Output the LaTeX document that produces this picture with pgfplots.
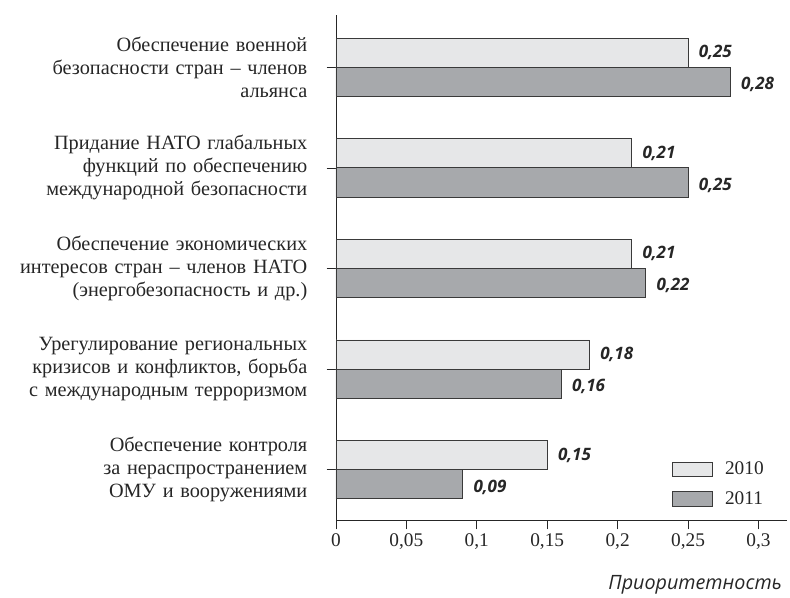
\documentclass[border=0pt]{standalone}
\usepackage{pgfplots}
\pgfplotsset{compat=1.18}
\usepackage{fontspec}
\setmainfont{Liberation Serif}
\newfontfamily\lab{Open Sans}
\definecolor{light}{HTML}{E6E7E8}
\definecolor{dark}{HTML}{A7A9AC}
\definecolor{edge}{HTML}{3A3A3A}
\begin{document}
\begin{tikzpicture}
\begin{axis}[
  at={(0pt,0pt)}, anchor=south west,
  scale only axis, width=338pt, height=378.75pt,
  xbar, bar width=0.29,
  xmin=0, xmax=0.32, ymin=-0.5, ymax=4.52,
  axis x line=bottom, axis y line=left,
  axis line style={-, draw=black!85, line width=0.6pt},
  tick align=outside, major tick length=7pt,
  tick style={draw=black!85, line width=0.5pt},
  xtick={0,0.05,0.1,0.15,0.2,0.25,0.3},
  xticklabels={0,{0,05},{0,1},{0,15},{0,2},{0,25},{0,3}},
  xticklabel style={font=\fontsize{14.5}{17}\selectfont, text=black!85},
  ytick={0,1,2,3,4},
  yticklabels={
    {Обеспечение контроля\\за нераспространением\\ОМУ и вооружениями},
    {Урегулирование региональных\\кризисов и конфликтов, борьба\\с международным терроризмом},
    {Обеспечение экономических\\интересов стран – членов НАТО\\(энергобезопасность и др.)},
    {Придание НАТО глабальных\\функций по обеспечению\\международной безопасности},
    {Обеспечение военной\\безопасности стран – членов\\альянса}},
  yticklabel style={align=right, text width=240pt, font=\fontsize{15.2}{17.25}\selectfont, text=black!85, xshift=-11pt},
  xlabel={Приоритетность},
  xlabel style={at={(rel axis cs:1,0)}, anchor=base east, xshift=0pt, yshift=-52.5pt, font=\lab\itshape\fontsize{14.8}{16}\selectfont, text=black!85},
  nodes near coords={\pgfmathprintnumber[fixed,fixed zerofill,precision=2,use comma,assume math mode=true]{\pgfplotspointmeta}},
  nodes near coords style={font=\lab\bfseries\itshape\fontsize{12.8}{14}\selectfont, text=black!85, anchor=west, xshift=4.5pt},
  legend style={draw=none, fill=none, at={(rel axis cs:1,0)}, anchor=south east, xshift=-12pt, yshift=6pt,
    row sep=7pt, font=\fontsize{14.5}{17}\selectfont, text=black!85,
    /tikz/every odd column/.append style={column sep=7pt}},
  legend cell align=left,
  legend image code/.code={\draw[#1, draw=edge, line width=0.6pt] (0pt,-5.5pt) rectangle (30pt,5.5pt);},
]
\addplot[fill=light, draw=edge, line width=0.6pt, bar shift=0.145] coordinates {(0.25,4) (0.21,3) (0.21,2) (0.18,1) (0.15,0)};
\addplot[fill=dark, draw=edge, line width=0.6pt, bar shift=-0.145, nodes near coords style={yshift=-2pt}] coordinates {(0.28,4) (0.25,3) (0.22,2) (0.16,1) (0.09,0)};
\legend{2010,2011}
\end{axis}
\pgfresetboundingbox
\path[use as bounding box] (-252pt,-58.5pt) rectangle (340.5pt,390pt);
\end{tikzpicture}
\end{document}
